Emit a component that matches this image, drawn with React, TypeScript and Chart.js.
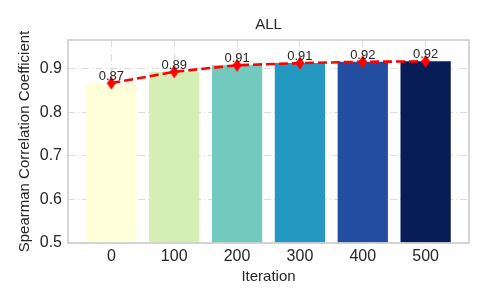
import React, { useEffect, useRef } from "react";
import { Chart, registerables } from "chart.js";

Chart.register(...registerables);

const categories = ["0", "100", "200", "300", "400", "500"];
const values = [0.867, 0.893, 0.908, 0.913, 0.916, 0.917];
const barColors = ["#ffffd9", "#d5eeb3", "#73c9bd", "#2498c1", "#234da0", "#081d58"];
const yMin = 0.5;
const yMax = 0.966;
const title = "ALL";
const xTitle = "Iteration";
const yTitle = "Spearman Correlation Coefficient";

const FONT = "'Liberation Sans', Arial, sans-serif";
const TEXT = "#262626";

function makeDiamond(): HTMLCanvasElement {
  const c = document.createElement("canvas");
  c.width = 10;
  c.height = 14;
  const g = c.getContext("2d")!;
  g.fillStyle = "#ff0000";
  g.beginPath();
  g.moveTo(5, 0.5);
  g.lineTo(9.5, 7);
  g.lineTo(5, 13.5);
  g.lineTo(0.5, 7);
  g.closePath();
  g.fill();
  return c;
}

export default function App() {
  const ref = useRef<HTMLCanvasElement | null>(null);

  useEffect(() => {
    if (!ref.current) return;
    const diamond = makeDiamond();
    const framePlugin = {
      id: "frame",
      afterDatasetsDraw(chart: any) {
        const { ctx, scales } = chart;
        ctx.save();
        ctx.font = `13px ${FONT}`;
        ctx.fillStyle = TEXT;
        ctx.textAlign = "center";
        ctx.textBaseline = "alphabetic";
        values.forEach((v, i) => {
          const x = scales.x.getPixelForValue(i);
          const y = scales.y.getPixelForValue(v + 0.005);
          ctx.fillText(v.toFixed(2), x, y - 1);
        });
        ctx.restore();
      },
      afterDraw(chart: any) {
        const { ctx, chartArea: a } = chart;
        ctx.save();
        ctx.strokeStyle = "#cccccc";
        ctx.lineWidth = 1.6;
        ctx.strokeRect(a.left, a.top, a.right - a.left, a.bottom - a.top);
        ctx.font = `15px ${FONT}`;
        ctx.fillStyle = TEXT;
        ctx.textAlign = "center";
        ctx.textBaseline = "middle";
        ctx.fillText(title, (a.left + a.right) / 2, 25);
        ctx.restore();
      },
    };

    const chart = new Chart(ref.current, {
      type: "bar",
      data: {
        datasets: [
          {
            type: "line",
            data: values.map((v, i) => ({ x: i, y: v })),
            borderColor: "#ff0000",
            borderWidth: 2.6,
            borderDash: [9, 4],
            pointStyle: diamond as any,
            pointRadius: 6,
            backgroundColor: "#ff0000",
            order: 0,
          } as any,
          {
            type: "bar",
            data: values.map((v, i) => ({ x: i, y: v })),
            backgroundColor: barColors,
            borderWidth: 0,
            barPercentage: 0.8,
            categoryPercentage: 1,
            order: 1,
            base: yMin,
          } as any,
        ],
      },
      options: {
        responsive: false,
        animation: false,
        devicePixelRatio: 1,
        layout: { padding: { left: 0, right: 18, top: 40, bottom: 0 } },
        plugins: {
          legend: { display: false },
          tooltip: { enabled: false },
          title: { display: false },
        },
        scales: {
          x: {
            type: "linear",
            offset: false,
            min: -0.69,
            max: 5.69,
            afterBuildTicks: (s: any) => {
              s.ticks = categories.map((_, i) => ({ value: i }));
            },
            ticks: {
              autoSkip: false,
              maxRotation: 0,
              color: TEXT,
              padding: 4,
              font: { family: FONT, size: 16 },
              callback: (v: any) => categories[v] ?? "",
            },
            grid: { color: "#dcdcdc", lineWidth: 1, drawTicks: false, offset: false },
            border: { display: false, dash: [7, 3, 1, 3] },
            title: {
              display: true,
              text: xTitle,
              color: TEXT,
              font: { family: FONT, size: 15 },
              padding: { top: 0, bottom: 19 },
            },
            afterFit: (s: any) => {
              s.height = 62;
            },
          },
          y: {
            min: yMin,
            max: yMax,
            ticks: {
              stepSize: 0.1,
              includeBounds: false,
              color: TEXT,
              padding: 6,
              font: { family: FONT, size: 16 },
              callback: (v: any) => Number(v).toFixed(1),
            },
            grid: { color: "#dcdcdc", lineWidth: 1, drawTicks: false },
            border: { display: false, dash: [7, 3, 1, 3] },
            title: {
              display: true,
              text: yTitle,
              color: TEXT,
              font: { family: FONT, size: 15 },
              padding: { top: 16, bottom: 0 },
            },
            afterFit: (s: any) => {
              s.width = 68;
            },
          },
        },
      } as any,
      plugins: [framePlugin],
    });
    return () => chart.destroy();
  }, []);

  return (
    <div style={{ position: "absolute", left: 0, top: 0, width: 487, height: 305, background: "#fff" }}>
      <canvas ref={ref} width={487} height={305} />
    </div>
  );
}
